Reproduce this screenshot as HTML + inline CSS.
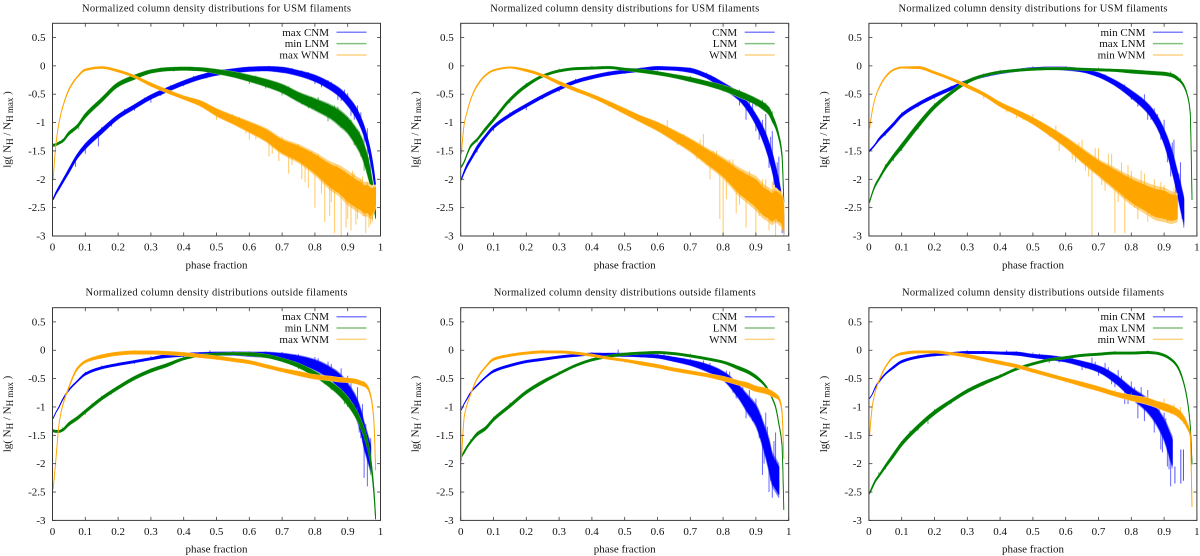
<!DOCTYPE html>
<html lang="en">
<head>
<meta charset="utf-8">
<title>Normalized column density distributions</title>
<style>
html,body{margin:0;padding:0;background:#fff;width:1200px;height:556px;overflow:hidden}
svg{display:block;filter:blur(0.3px)}
text{font-family:"Liberation Serif","DejaVu Serif",serif;fill:#111}
.title{font-size:10.5px;text-anchor:middle}
.lab{font-size:11px}
.leg{font-size:11px;text-anchor:end}
.sub{font-size:9px}
</style>
</head>
<body>
<svg id="chart" xmlns="http://www.w3.org/2000/svg" width="1200" height="556" viewBox="0 0 1200 556">
<rect width="1200" height="556" fill="#fff"/>

<g id="panel-0">
<text class="title" x="216.5" y="11.5" textLength="269" lengthAdjust="spacing">Normalized column density distributions for USM filaments</text>
<text class="lab" x="216.5" y="268.5" text-anchor="middle">phase fraction</text>
<text class="lab" transform="translate(10.5,129.5) rotate(-90)" text-anchor="middle">lg( N<tspan class="sub" dy="2.5">H</tspan><tspan dy="-2.5"> / N</tspan><tspan class="sub" dy="2.5">H max</tspan><tspan dy="-2.5"> )</tspan></text>
</g>
<g id="panel-1">
<text class="title" x="624.7" y="11.5" textLength="269" lengthAdjust="spacing">Normalized column density distributions for USM filaments</text>
<text class="lab" x="624.7" y="268.5" text-anchor="middle">phase fraction</text>
<text class="lab" transform="translate(418.7,129.5) rotate(-90)" text-anchor="middle">lg( N<tspan class="sub" dy="2.5">H</tspan><tspan dy="-2.5"> / N</tspan><tspan class="sub" dy="2.5">H max</tspan><tspan dy="-2.5"> )</tspan></text>
</g>
<g id="panel-2">
<text class="title" x="1033" y="11.5" textLength="269" lengthAdjust="spacing">Normalized column density distributions for USM filaments</text>
<text class="lab" x="1033" y="268.5" text-anchor="middle">phase fraction</text>
<text class="lab" transform="translate(827,129.5) rotate(-90)" text-anchor="middle">lg( N<tspan class="sub" dy="2.5">H</tspan><tspan dy="-2.5"> / N</tspan><tspan class="sub" dy="2.5">H max</tspan><tspan dy="-2.5"> )</tspan></text>
</g>
<g id="panel-3">
<text class="title" x="216.5" y="295.5" textLength="262" lengthAdjust="spacing">Normalized column density distributions outside filaments</text>
<text class="lab" x="216.5" y="552.5" text-anchor="middle">phase fraction</text>
<text class="lab" transform="translate(10.5,414) rotate(-90)" text-anchor="middle">lg( N<tspan class="sub" dy="2.5">H</tspan><tspan dy="-2.5"> / N</tspan><tspan class="sub" dy="2.5">H max</tspan><tspan dy="-2.5"> )</tspan></text>
</g>
<g id="panel-4">
<text class="title" x="624.7" y="295.5" textLength="262" lengthAdjust="spacing">Normalized column density distributions outside filaments</text>
<text class="lab" x="624.7" y="552.5" text-anchor="middle">phase fraction</text>
<text class="lab" transform="translate(418.7,414) rotate(-90)" text-anchor="middle">lg( N<tspan class="sub" dy="2.5">H</tspan><tspan dy="-2.5"> / N</tspan><tspan class="sub" dy="2.5">H max</tspan><tspan dy="-2.5"> )</tspan></text>
</g>
<g id="panel-5">
<text class="title" x="1033" y="295.5" textLength="262" lengthAdjust="spacing">Normalized column density distributions outside filaments</text>
<text class="lab" x="1033" y="552.5" text-anchor="middle">phase fraction</text>
<text class="lab" transform="translate(827,414) rotate(-90)" text-anchor="middle">lg( N<tspan class="sub" dy="2.5">H</tspan><tspan dy="-2.5"> / N</tspan><tspan class="sub" dy="2.5">H max</tspan><tspan dy="-2.5"> )</tspan></text>
</g>
</svg>

<script>
// Shared phase-fraction sample positions
const phaseGrid = [0.002,0.01,0.02,0.03,0.05,0.075,0.1,0.15,0.2,0.25,0.3,0.35,0.4,0.45,0.5,0.55,0.6,0.65,0.7,0.75,0.8,0.85,0.875,0.9,0.925,0.94,0.95,0.96,0.97,0.98,0.985];
const xTickLabels = [0,0.1,0.2,0.3,0.4,0.5,0.6,0.7,0.8,0.9,1];
const yTickLabels = [0.5,0,-0.5,-1,-1.5,-2,-2.5,-3];
const legendPanel0 = ['max CNM','min LNM','max WNM'];
const legendPanel1 = ['CNM','LNM','WNM'];
const legendPanel2 = ['min CNM','max LNM','min WNM'];

// Panel 1: USM, max CNM
const p1CnmValues = [-2.35,-2.25,-2.15,-2.05,-1.85,-1.6,-1.42,-1.15,-.9,-.72,-.55,-.42,-.3,-.2,-.13,-.09,-.06,-.05,-.07,-.13,-.22,-.37,-.47,-.62,-.82,-1,-1.15,-1.35,-1.6,-1.95,-2.2];
const p1CnmSpread = [.01,.02,.03,.03,.04,.04,.05,.05,.04,.04,.04,.04,.04,.04,.04,.04,.04,.04,.05,.05,.06,.07,.08,.09,.1,.1,.1,.1,.1,.1,.1];
const p1CnmSpikePhase = [.07,.1,.14,.3,.6,.7,.76,.8,.84,.87,.89,.91,.93,.95,.96,.97,.15,.18,.22,.25,.28,.33,.36,.4,.43,.47,.52,.55,.58,.63,.66,.73,.78,.82,.85,.88,.9,.92,.94];
const p1CnmSpikeTip = [-1.78,-1.55,-1.42,-.65,-.01,-.02,-.08,-.32,-.25,-.6,-.42,-.88,-.7,-1.4,-1.1,-1.9,-1.08,-1.07,-.76,-.79,-.56,-.53,-.34,-.36,-.18,-.22,-.06,-.14,-.02,-.1,0,-.04,-.11,-.38,-.28,-.62,-.48,-.95,-.82];
const p1LnmValues = [-1.4,-1.39,-1.36,-1.33,-1.19,-1.07,-.88,-.6,-.33,-.2,-.1,-.06,-.05,-.06,-.1,-.15,-.22,-.3,-.4,-.55,-.68,-.82,-.92,-1.05,-1.25,-1.4,-1.55,-1.75,-2,-2.35,-2.6];
const p1LnmSpread = [.02,.02,.02,.02,.03,.03,.04,.04,.04,.04,.03,.03,.03,.03,.04,.05,.06,.07,.08,.09,.11,.13,.15,.15,.17,.18,.18,.18,.15,.12,.1];
const p1LnmSpikePhase = [.08,.12,.3,.5,.6,.65,.7,.74,.78,.81,.84,.86,.88,.9,.92,.935,.95,.965,.975,.03,.06,.11,.14,.17,.2,.24,.28,.33,.37,.42,.46,.53,.56,.62,.67,.72,.76,.79,.83,.87,.89,.91,.93,.94,.96];
const p1LnmSpikeTip = [-1.12,-.8,-.06,-.15,-.32,-.4,-.52,-.45,-.75,-.55,-.98,-.7,-1.1,-.9,-1.4,-1.15,-1.85,-1.6,-2.7,-1.29,-1.18,-.79,-.7,-.44,-.38,-.17,-.17,-.03,-.1,-.01,-.09,-.09,-.2,-.17,-.4,-.36,-.68,-.55,-.85,-.72,-1.05,-.95,-1.12,-1.6,-1.45];
const p1WnmValues = [-2,-1.4,-1,-.75,-.42,-.2,-.07,-.03,-.09,-.19,-.33,-.45,-.56,-.66,-.82,-.95,-1.08,-1.22,-1.42,-1.55,-1.73,-1.95,-2.03,-2.15,-2.25,-2.3,-2.35,-2.35,-2.4,-2.35,-2.3];
const p1WnmSpread = [0,0,0,.005,.01,.01,.015,.015,.02,.02,.03,.03,.03,.05,.07,.08,.1,.12,.14,.16,.2,.25,.27,.3,.3,.3,.3,.3,.3,.25,.2];
const p1WnmSpikePhase = [.5,.55,.6,.62,.66,.69,.72,.74,.76,.78,.8,.81,.83,.84,.85,.86,.87,.88,.89,.9,.91,.92,.93,.94,.955,.965,.975,.32,.36,.4,.44,.47,.53,.57,.59,.64,.67,.7,.73,.75,.77,.79,.82,.845,.865,.895,.915,.925,.945,.95,.96,.97,.98];
const p1WnmSpikeTip = [-.95,-.85,-1.3,-1.3,-1.6,-1.68,-1.9,-1.4,-2,-2.15,-2.5,-1.55,-2.75,-1.7,-2.4,-2.95,-1.8,-3,-1.85,-2.7,-2.9,-1.9,-2.7,-2,-2.95,-2.85,-2.75,-.42,-.42,-.6,-.6,-.78,-.98,-.9,-1.2,-1.1,-1.55,-1.25,-1.75,-1.38,-2.05,-1.5,-2.25,-2.65,-1.75,-2.85,-1.85,-2.8,-1.95,-2.65,-2.05,-2.8,-2.6];

// Panel 2: USM, all
const p2CnmValues = [-2,-1.88,-1.75,-1.65,-1.45,-1.25,-1.08,-.87,-.7,-.54,-.4,-.28,-.2,-.14,-.1,-.07,-.04,-.05,-.08,-.18,-.35,-.55,-.72,-.95,-1.25,-1.5,-1.7,-1.95,-2.2,-2.55,-2.8];
const p2CnmSpread = [.01,.02,.03,.03,.04,.03,.03,.03,.03,.03,.03,.03,.03,.03,.03,.03,.03,.03,.04,.04,.06,.07,.08,.1,.14,.16,.18,.2,.2,.2,.2];
const p2CnmSpikePhase = [.1,.2,.3,.65,.8,.84,.87,.89,.91,.93,.94,.95,.96,.97,.98,.05,.15,.25,.35,.4,.45,.5,.55,.6,.7,.75,.78,.82,.85,.88,.9,.92,.945,.955,.965,.975];
const p2CnmSpikeTip = [-1.15,-.78,-.46,-.01,-.45,-.45,-.95,-.6,-1.3,-.85,-1.8,-1.15,-2.3,-1.6,-2.95,-1.53,-.82,-.59,-.23,-.24,-.1,-.14,-.03,-.08,-.03,-.12,-.34,-.37,-.7,-.62,-1.15,-.95,-1.25,-2.1,-1.7,-2.7];
const p2LnmValues = [-1.78,-1.7,-1.55,-1.42,-1.3,-1.12,-.95,-.6,-.35,-.18,-.09,-.05,-.04,-.03,-.06,-.09,-.13,-.18,-.24,-.31,-.39,-.5,-.56,-.63,-.72,-.8,-.92,-1.05,-1.25,-1.6,-2.4];
const p2LnmSpread = [.01,.01,.01,.02,.02,.03,.03,.03,.03,.02,.02,.02,.02,.02,.02,.03,.03,.03,.04,.04,.05,.06,.06,.06,.07,.07,.07,.05,.04,.03,.02];
const p2LnmSpikePhase = [.1,.15,.7,.8,.85,.88,.9,.92,.95,.05,.2,.3,.4,.5,.6,.65,.75,.78,.82,.87,.89,.91,.93,.94,.96];
const p2LnmSpikeTip = [-.9,-.66,-.18,-.45,-.42,-.65,-.72,-.6,-.8,-1.35,-.3,-.05,0,-.1,-.09,-.22,-.27,-.4,-.35,-.6,-.56,-.72,-.65,-.86,-1.1];
const p2WnmValues = [-1.55,-1.05,-.8,-.6,-.35,-.17,-.08,-.03,-.08,-.17,-.3,-.42,-.53,-.66,-.8,-.94,-1.07,-1.23,-1.4,-1.6,-1.8,-2.05,-2.15,-2.25,-2.4,-2.45,-2.5,-2.45,-2.5,-2.55,-2.7];
const p2WnmSpread = [0,0,0,.005,.01,.01,.01,.01,.02,.02,.03,.03,.03,.04,.05,.06,.08,.1,.12,.15,.18,.25,.27,.3,.3,.3,.3,.3,.3,.3,.3];
const p2WnmSpikePhase = [.45,.55,.6,.63,.66,.7,.72,.74,.76,.77,.79,.8,.82,.84,.86,.87,.89,.9,.92,.94,.95,.96,.97,.98,.4,.48,.52,.57,.62,.65,.68,.73,.75,.78,.81,.83,.85,.88,.91,.93,.945,.955,.965,.975];
const p2WnmSpikeTip = [-.72,-.98,-1.15,-.95,-1.4,-1.3,-1.65,-1.2,-2,-1.5,-2.7,-3,-1.65,-2.6,-1.85,-2.85,-2,-3,-2,-2.9,-2.05,-3,-2.2,-2.9,-.58,-.73,-.82,-1.04,-1.1,-1.33,-1.2,-1.3,-1.75,-1.5,-2.35,-1.65,-2.45,-1.85,-2.65,-2,-2.7,-2.1,-2.75,-2.2];

// Panel 3: USM, min CNM
const p3CnmValues = [-1.5,-1.45,-1.38,-1.3,-1.18,-1.03,-.87,-.68,-.53,-.4,-.27,-.18,-.12,-.08,-.05,-.04,-.05,-.08,-.16,-.3,-.5,-.75,-.95,-1.25,-1.7,-2.05,-2.3,-2.55,null,null,null];
const p3CnmSpread = [.01,.01,.01,.02,.03,.03,.03,.03,.03,.03,.02,.02,.02,.02,.02,.02,.03,.03,.04,.05,.07,.09,.11,.14,.2,.22,.25,.25,null,null,null];
const p3CnmSpikePhase = [.2,.4,.7,.8,.83,.85,.87,.89,.9,.92,.93,.94,.95,.96,.05,.1,.15,.25,.3,.35,.5,.6,.65,.72,.75,.78,.82,.84,.86,.88,.91,.925,.935,.945,.955];
const p3CnmSpikeTip = [-.58,-.07,-.12,-.6,-.55,-.95,-.75,-1.3,-.95,-1.95,-1.3,-2.5,-1.7,-2.85,-1.23,-.82,-.73,-.35,-.32,-.14,-.01,-.01,-.12,-.15,-.35,-.33,-.72,-.5,-.95,-.85,-1.7,-1.35,-2.3,-1.9,-2.7];
const p3LnmValues = [-2.4,-2.25,-2.1,-2,-1.8,-1.6,-1.42,-1.05,-.72,-.48,-.28,-.17,-.11,-.08,-.06,-.05,-.05,-.06,-.07,-.08,-.1,-.12,-.13,-.14,-.17,-.22,-.27,-.35,-.5,-.85,-2.35];
const p3LnmSpread = [.01,.01,.02,.02,.03,.04,.05,.05,.04,.03,.03,.02,.02,.02,.02,.02,.02,.02,.02,.02,.03,.03,.03,.03,.03,.03,.02,.02,.01,.01,.01];
const p3LnmSpikePhase = [.1,.15,.2,.6,.92,.05,.075,.125,.18,.25,.3,.35,.7,.8,.9,.95];
const p3LnmSpikeTip = [-1.5,-1.12,-.66,-.01,-.1,-1.73,-1.68,-1.28,-.8,-.43,-.32,-.14,-.03,-.07,-.11,-.22];
const p3WnmValues = [-1.1,-.8,-.55,-.4,-.2,-.07,-.03,-.03,-.12,-.23,-.36,-.5,-.68,-.82,-.97,-1.15,-1.35,-1.58,-1.8,-2,-2.2,-2.35,-2.42,-2.45,-2.5,-2.5,null,null,null,null,null];
const p3WnmSpread = [0,0,0,.005,.01,.01,.01,.02,.02,.02,.03,.03,.04,.05,.06,.08,.1,.13,.15,.2,.25,.28,.3,.3,.28,.25,null,null,null,null,null];
const p3WnmSpikePhase = [.35,.45,.5,.55,.6,.63,.65,.67,.68,.7,.72,.73,.75,.77,.78,.8,.82,.84,.85,.87,.88,.9,.91,.93,.94,.4,.42,.47,.52,.57,.58,.62,.64,.66,.69,.71,.74,.76,.79,.81,.83,.86,.89,.92,.935];
const p3WnmSpikeTip = [-.58,-.92,-.85,-1.25,-1.25,-1.7,-1.3,-1.95,-3,-1.45,-2.2,-1.55,-2.95,-1.7,-2.95,-1.85,-2.7,-1.9,-2.75,-2,-2.65,-2.1,-2.75,-2.15,-2.6,-.63,-.82,-.95,-1.08,-1.05,-1.5,-1.65,-1.35,-1.85,-1.45,-2.1,-1.55,-2.4,-1.75,-2.5,-1.85,-2.65,-2.05,-2.7,-2.15];

// Panel 4: outside, max CNM
const p4CnmValues = [-1.2,-1.1,-1,-.88,-.7,-.55,-.42,-.31,-.25,-.2,-.15,-.1,-.08,-.07,-.06,-.06,-.07,-.08,-.11,-.17,-.26,-.42,-.55,-.75,-1,-1.25,-1.5,-1.7,-1.9,null,null];
const p4CnmSpread = [0,0,.005,.005,.01,.01,.02,.02,.02,.02,.02,.03,.03,.03,.03,.03,.04,.05,.06,.08,.1,.12,.15,.18,.2,.22,.25,.25,.25,null,null];
const p4CnmSpikePhase = [.1,.3,.48,.6,.7,.75,.78,.8,.82,.84,.86,.88,.89,.9,.92,.93,.94,.95,.96,.97,.15,.2,.25,.35,.4,.45,.5,.55,.65,.72,.74,.77,.79,.81,.83,.85,.87,.91,.935,.945,.955,.965];
const p4CnmSpikeTip = [-.38,-.1,0,-.02,-.03,-.07,-.28,-.12,-.38,-.2,-.6,-.32,-.8,-.45,-1.15,-.65,-1.55,-2.25,-2.4,-1.55,-.27,-.22,-.24,-.06,-.12,-.03,-.1,-.02,-.02,-.19,-.08,-.13,-.28,-.14,-.45,-.24,-.62,-.55,-1.45,-.95,-1.3,-1.85];
const p4LnmValues = [-1.42,-1.43,-1.43,-1.41,-1.3,-1.2,-1.08,-.85,-.66,-.49,-.36,-.26,-.15,-.09,-.07,-.06,-.07,-.1,-.17,-.27,-.42,-.62,-.74,-.9,-1.12,-1.3,-1.45,-1.65,-1.95,-2.5,-2.95];
const p4LnmSpread = [.02,.02,.02,.02,.03,.03,.03,.03,.03,.03,.03,.03,.02,.02,.02,.02,.03,.03,.03,.04,.05,.06,.07,.08,.08,.08,.08,.08,.07,.05,.03];
const p4LnmSpikePhase = [.1,.15,.7,.8,.85,.88,.9,.92,.95,.97,.03,.07,.12,.18,.22,.25,.3,.35,.4,.6,.65,.72,.75,.78,.83,.86,.89,.93,.94,.96];
const p4LnmSpikeTip = [-1.14,-.8,-.13,-.48,-.7,-.65,-1,-.95,-1.6,-2.2,-1.36,-1.25,-.94,-.78,-.57,-.53,-.32,-.29,-.12,-.05,-.13,-.17,-.33,-.33,-.6,-.6,-.95,-1,-1.4,-1.75];
const p4WnmValues = [-2.45,-1.95,-1.3,-1,-.65,-.33,-.2,-.11,-.06,-.04,-.04,-.05,-.07,-.1,-.13,-.17,-.21,-.28,-.35,-.41,-.47,-.5,-.52,-.53,-.55,-.58,-.6,-.65,-.8,-1.25,-2.1];
const p4WnmSpread = [0,0,0,.005,.01,.02,.02,.03,.03,.03,.03,.03,.03,.03,.03,.03,.03,.03,.03,.04,.04,.04,.04,.04,.04,.04,.04,.03,.02,.01,.01];
const p4WnmSpikePhase = [.25,.4,.6,.8,.9,.95,.15,.2,.3,.35,.45,.5,.55,.65,.7,.75,.85,.88,.92];
const p4WnmSpikeTip = [0,-.03,-.25,-.42,-.48,-.55,-.08,-.09,-.01,-.08,-.07,-.17,-.14,-.31,-.31,-.45,-.46,-.56,-.5];

// Panel 5: outside, all
const p5CnmValues = [-1.05,-.95,-.85,-.75,-.62,-.48,-.37,-.27,-.2,-.16,-.12,-.09,-.07,-.08,-.08,-.09,-.11,-.16,-.22,-.31,-.45,-.75,-.95,-1.15,-1.55,-1.85,-2.1,-2.2,-2.3,null,null];
const p5CnmSpread = [0,0,.005,.005,.01,.01,.02,.02,.02,.02,.02,.02,.02,.03,.03,.03,.03,.04,.05,.07,.08,.13,.17,.2,.25,.3,.3,.3,.3,null,null];
const p5CnmSpikePhase = [.48,.6,.7,.76,.8,.82,.84,.85,.87,.88,.89,.9,.91,.92,.93,.94,.95,.96,.97,.1,.2,.3,.35,.4,.45,.5,.55,.62,.65,.68,.72,.74,.78,.81,.83,.86,.88,.915,.925,.935,.945,.955,.965];
const p5CnmSpikeTip = [.01,-.05,-.15,-.22,-.55,-.38,-.85,-.55,-1.2,-.7,-1.25,-.85,-1.55,-2.2,-1.1,-2.5,-2.6,-1.45,-2.45,-.34,-.17,-.09,-.06,-.03,-.11,-.04,-.13,-.06,-.2,-.14,-.3,-.18,-.42,-.36,-.75,-.65,-1.1,-1.15,-2,-1.35,-2.3,-1.6,-2.2];
const p5LnmValues = [-1.88,-1.8,-1.7,-1.62,-1.48,-1.38,-1.22,-.98,-.74,-.56,-.41,-.27,-.17,-.11,-.07,-.05,-.04,-.06,-.1,-.15,-.21,-.32,-.38,-.47,-.6,-.73,-.85,-1,-1.3,-1.7,-2.8];
const p5LnmSpread = [.01,.02,.02,.02,.03,.03,.03,.03,.03,.03,.02,.02,.02,.02,.02,.02,.02,.02,.02,.02,.02,.03,.03,.03,.02,.02,.01,.01,.01,.01,.01];
const p5LnmSpikePhase = [.1,.15,.18,.7,.85,.03,.05,.075,.12,.2,.25,.3,.35,.4,.5,.6,.75,.8,.9];
const p5LnmSpikeTip = [-1.17,-.92,-.8,-.06,-.28,-1.57,-1.44,-1.41,-1.15,-.7,-.6,-.37,-.3,-.14,-.09,-.02,-.13,-.23,-.44];
const p5WnmValues = [-1.95,-1.2,-.95,-.78,-.5,-.3,-.16,-.09,-.05,-.03,-.03,-.05,-.09,-.14,-.18,-.23,-.28,-.34,-.39,-.44,-.5,-.58,-.62,-.68,-.71,-.74,-.77,-.8,-.85,-1.1,-1.9];
const p5WnmSpread = [0,0,0,.005,.01,.01,.02,.02,.02,.02,.02,.02,.02,.02,.02,.03,.03,.03,.03,.03,.04,.04,.05,.05,.05,.05,.05,.04,.03,.02,.01];
const p5WnmSpikePhase = [.25,.4,.6,.8,.9,.15,.2,.3,.35,.45,.5,.55,.7,.75,.85,.875,.925];
const p5WnmSpikeTip = [.01,-.05,-.25,-.45,-.62,-.06,-.07,-.01,-.08,-.11,-.22,-.2,-.42,-.4,-.55,-.66,-.67];

// Panel 6: outside, min CNM
const p6CnmValues = [-.85,-.78,-.65,-.56,-.42,-.3,-.2,-.12,-.08,-.06,-.04,-.04,-.05,-.06,-.1,-.13,-.17,-.24,-.33,-.5,-.75,-.98,-1.15,-1.4,-1.8,null,null,null,null,null,null];
const p6CnmSpread = [0,0,.005,.01,.01,.02,.02,.02,.02,.02,.02,.02,.02,.03,.03,.04,.04,.05,.06,.08,.1,.13,.16,.2,.28,null,null,null,null,null,null];
const p6CnmSpikePhase = [.3,.42,.5,.55,.6,.65,.68,.7,.72,.74,.76,.78,.8,.82,.83,.84,.85,.87,.88,.89,.9,.91,.92,.15,.2,.25,.35,.4,.45,.48,.52,.58,.62,.66,.69,.71,.73,.75,.77,.79,.81,.86,.885,.895,.905,.915];
const p6CnmSpikeTip = [0,0,-.04,-.22,-.1,-.35,-.13,-.45,-.22,-.6,-.35,-.95,-.55,-1.2,-.65,-1.25,-.7,-1.45,-.95,-1.75,-1.1,-2.05,-2.4,-.08,-.11,-.03,-.01,-.08,-.02,-.1,-.06,-.22,-.12,-.32,-.2,-.42,-.3,-.65,-.45,-.95,-.65,-1.02,-.95,-1.8,-1.2,-2.1];
const p6CnmIsolatedPhase = [.933,.951,.959];
const p6CnmIsolatedLow = [-2.35,-2.35,-2.3];
const p6CnmIsolatedHigh = [-2.05,-1.75,-1.75];
const p6LnmValues = [-2.52,-2.42,-2.3,-2.22,-2.05,-1.85,-1.65,-1.35,-1.1,-.9,-.72,-.58,-.46,-.33,-.24,-.17,-.13,-.09,-.07,-.05,-.05,-.04,-.05,-.09,-.18,-.28,-.4,-.58,-.85,-1.35,-2];
const p6LnmSpread = [.01,.02,.02,.02,.03,.04,.04,.04,.04,.03,.03,.03,.02,.02,.02,.02,.02,.02,.02,.02,.02,.02,.02,.02,.02,.02,.02,.01,.01,.01,.01];
const p6LnmSpikePhase = [.05,.1,.15,.75,.85,.03,.075,.125,.18,.2,.25,.3,.35,.4,.45,.5,.6,.7];
const p6LnmSpikeTip = [-2.1,-1.6,-1.42,-.01,0,-2.15,-1.9,-1.42,-1.3,-1.04,-.95,-.68,-.62,-.42,-.36,-.21,-.11,-.05];
const p6WnmValues = [-1.5,-1,-.72,-.55,-.3,-.12,-.06,-.03,-.03,-.06,-.1,-.16,-.22,-.28,-.36,-.44,-.52,-.6,-.68,-.77,-.84,-.9,-.95,-1,-1.05,-1.1,-1.15,-1.22,-1.33,-1.5,-2.75];
const p6WnmSpread = [0,0,0,.005,.01,.01,.02,.02,.02,.02,.03,.03,.03,.03,.03,.03,.03,.04,.04,.04,.05,.06,.06,.07,.07,.07,.07,.06,.05,.03,.01];
const p6WnmSpikePhase = [.65,.75,.8,.85,.9,.93,.95,.2,.3,.4,.5,.55,.6,.7,.75,.82,.87,.92,.94,.96];
const p6WnmSpikeTip = [-.55,-.7,-.75,-.78,-.85,-.95,-1,0,-.13,-.18,-.4,-.4,-.57,-.64,-.73,-.89,-.92,-1.12,-1.03,-1.3];

const panelSeries = [
  [[p1CnmValues,p1CnmSpread,p1CnmSpikePhase,p1CnmSpikeTip],[p1LnmValues,p1LnmSpread,p1LnmSpikePhase,p1LnmSpikeTip],[p1WnmValues,p1WnmSpread,p1WnmSpikePhase,p1WnmSpikeTip]],
  [[p2CnmValues,p2CnmSpread,p2CnmSpikePhase,p2CnmSpikeTip],[p2LnmValues,p2LnmSpread,p2LnmSpikePhase,p2LnmSpikeTip],[p2WnmValues,p2WnmSpread,p2WnmSpikePhase,p2WnmSpikeTip]],
  [[p3CnmValues,p3CnmSpread,p3CnmSpikePhase,p3CnmSpikeTip],[p3LnmValues,p3LnmSpread,p3LnmSpikePhase,p3LnmSpikeTip],[p3WnmValues,p3WnmSpread,p3WnmSpikePhase,p3WnmSpikeTip]],
  [[p4CnmValues,p4CnmSpread,p4CnmSpikePhase,p4CnmSpikeTip],[p4LnmValues,p4LnmSpread,p4LnmSpikePhase,p4LnmSpikeTip],[p4WnmValues,p4WnmSpread,p4WnmSpikePhase,p4WnmSpikeTip]],
  [[p5CnmValues,p5CnmSpread,p5CnmSpikePhase,p5CnmSpikeTip],[p5LnmValues,p5LnmSpread,p5LnmSpikePhase,p5LnmSpikeTip],[p5WnmValues,p5WnmSpread,p5WnmSpikePhase,p5WnmSpikeTip]],
  [[p6CnmValues,p6CnmSpread,p6CnmSpikePhase,p6CnmSpikeTip],[p6LnmValues,p6LnmSpread,p6LnmSpikePhase,p6LnmSpikeTip],[p6WnmValues,p6WnmSpread,p6WnmSpikePhase,p6WnmSpikeTip]]
];
const panelLegends = [legendPanel0,legendPanel1,legendPanel2,legendPanel0,legendPanel1,legendPanel2];
const seriesKeys = ['cnm','lnm','wnm'];

const NS = 'http://www.w3.org/2000/svg';
const PLOT_W = 328, PLOT_H = 212.7;
const COLORS = ['#0000ff','#008000','#ffa500'];
const PALE = ['#8080ff','#80c080','#ffd280'];
const FRAME = '#3a3a3a';

function make(tag, parent, attrs) {
  const e = document.createElementNS(NS, tag);
  for (const k in attrs) e.setAttribute(k, attrs[k]);
  parent.appendChild(e);
  return e;
}
function plotLeft(i) { return 52.5 + (i % 3) * 408.2; }
function plotTop(i) { return i < 3 ? 23.3 : 307.7; }
function xScale(i, v) { return plotLeft(i) + v * PLOT_W; }
function yScale(i, v) { return plotTop(i) + (0.75 - v) / 3.75 * PLOT_H; }

// Shape-preserving curve through the read values so the drawn line has no kinks at the samples.
function tangents(xs, ys) {
  const n = xs.length, d = [], m = new Array(n);
  for (let k = 0; k < n - 1; k++) d.push((ys[k + 1] - ys[k]) / (xs[k + 1] - xs[k]));
  m[0] = d[0];
  m[n - 1] = d[n - 2];
  for (let k = 1; k < n - 1; k++) {
    if (d[k - 1] * d[k] <= 0) { m[k] = 0; continue; }
    const h0 = xs[k] - xs[k - 1], h1 = xs[k + 1] - xs[k];
    const w0 = 2 * h1 + h0, w1 = h1 + 2 * h0;
    m[k] = (w0 + w1) / (w0 / d[k - 1] + w1 / d[k]);
  }
  return m;
}
function hermite(x0, x1, y0, y1, m0, m1, x) {
  const h = x1 - x0, t = (x - x0) / h, t2 = t * t, t3 = t2 * t;
  return (2 * t3 - 3 * t2 + 1) * y0 + (t3 - 2 * t2 + t) * h * m0 + (-2 * t3 + 3 * t2) * y1 + (t3 - t2) * h * m1;
}
function sampleCurve(i, values, spread) {
  const xs = [], ys = [], ss = [];
  values.forEach((v, k) => {
    if (v == null) return;
    xs.push(phaseGrid[k]);
    ys.push(v);
    ss.push(spread[k] || 0);
  });
  const m = tangents(xs, ys), out = [];
  for (let k = 0; k < xs.length - 1; k++) {
    const steps = Math.max(1, Math.ceil((xs[k + 1] - xs[k]) * PLOT_W / 1.5));
    for (let j = 0; j < steps; j++) {
      const x = xs[k] + (xs[k + 1] - xs[k]) * j / steps;
      out.push([x, hermite(xs[k], xs[k + 1], ys[k], ys[k + 1], m[k], m[k + 1], x), ss[k] + (ss[k + 1] - ss[k]) * j / steps]);
    }
  }
  out.push([xs[xs.length - 1], ys[ys.length - 1], ss[ss.length - 1]]);
  return out;
}
function centerAt(samples, phase) {
  if (phase > samples[samples.length - 1][0]) return null;
  for (let k = 0; k < samples.length; k++) if (samples[k][0] >= phase) return samples[k][1];
  return null;
}
function bandPath(i, samples, factor) {
  const up = [], lo = [];
  samples.forEach(p => {
    const x = xScale(i, p[0]).toFixed(2);
    const s = p[2] * factor;
    up.push(x + ',' + yScale(i, p[1] + s).toFixed(2));
    lo.unshift(x + ',' + yScale(i, p[1] - s).toFixed(2));
  });
  return 'M' + up.concat(lo).join('L') + 'Z';
}

function drawPanel(i) {
  const g = document.getElementById('panel-' + i);
  const L = plotLeft(i), T = plotTop(i);
  const defs = make('defs', g, {});
  const clip = make('clipPath', defs, {id: 'clip-' + i});
  make('rect', clip, {x: L, y: T, width: PLOT_W, height: PLOT_H});

  const plot = make('g', g, {'clip-path': 'url(#clip-' + i + ')'});
  
  

  panelSeries[i].forEach((s, si) => {
    const values = s[0], spread = s[1], spikePhase = s[2], spikeTip = s[3];
    const samples = sampleCurve(i, values, spread);
    const sg = make('g', plot, {});
    
    
    const halo = make('path', sg, {d: bandPath(i, samples, 1), fill: PALE[si], stroke: PALE[si], 'stroke-width': 0.8, 'stroke-linejoin': 'round'});
    
    
    spikePhase.forEach((p, k) => {
      const c = centerAt(samples, p);
      if (c == null) return;
      const spike = make('line', sg, {x1: xScale(i, p), x2: xScale(i, p), y1: yScale(i, c), y2: yScale(i, spikeTip[k]), stroke: COLORS[si], 'stroke-opacity': 0.6, 'stroke-width': 1});
      
      
    });
    const core = make('path', sg, {d: bandPath(i, samples, 0.8), fill: COLORS[si], stroke: COLORS[si], 'stroke-width': 0.9, 'stroke-linejoin': 'round'});
    
    
  });

  if (i === 5) {
    p6CnmIsolatedPhase.forEach((p, k) => {
      const seg = make('line', plot, {x1: xScale(i, p), x2: xScale(i, p), y1: yScale(i, p6CnmIsolatedLow[k]), y2: yScale(i, p6CnmIsolatedHigh[k]), stroke: COLORS[0], 'stroke-opacity': 0.7, 'stroke-width': 1});
      
      
    });
  }

  const frame = make('rect', g, {x: L, y: T, width: PLOT_W, height: PLOT_H, fill: 'none', stroke: FRAME, 'stroke-width': 1});
  
  

  xTickLabels.forEach(v => {
    const x = xScale(i, v);
    const t1 = make('line', g, {x1: x, x2: x, y1: T + PLOT_H, y2: T + PLOT_H - 3.5, stroke: FRAME, 'stroke-width': 0.8});
    
    
    const t2 = make('line', g, {x1: x, x2: x, y1: T, y2: T + 3.5, stroke: FRAME, 'stroke-width': 0.8});
    
    
    const lab = make('text', g, {class: 'lab', x: x, y: T + PLOT_H + 14.7, 'text-anchor': 'middle'});
    lab.textContent = String(v);
    
    
  });
  yTickLabels.forEach(v => {
    const y = yScale(i, v);
    const t1 = make('line', g, {x1: L, x2: L + 3.5, y1: y, y2: y, stroke: FRAME, 'stroke-width': 0.8});
    
    
    const t2 = make('line', g, {x1: L + PLOT_W, x2: L + PLOT_W - 3.5, y1: y, y2: y, stroke: FRAME, 'stroke-width': 0.8});
    
    
    const lab = make('text', g, {class: 'lab', x: L - 7, y: y + 3.5, 'text-anchor': 'end'});
    lab.textContent = String(v);
    
    
  });

  panelLegends[i].forEach((name, k) => {
    const y = T + 9 + k * 11.35;
    const lab = make('text', g, {class: 'leg', x: L + 276.5, y: y + 3.5});
    lab.textContent = name;
    
    
    const swatch = make('line', g, {x1: L + 284, x2: L + 314, y1: y, y2: y, stroke: PALE[k], 'stroke-width': 1.5});
    
    
  });
}
for (let i = 0; i < 6; i++) drawPanel(i);
</script>
</body>
</html>
